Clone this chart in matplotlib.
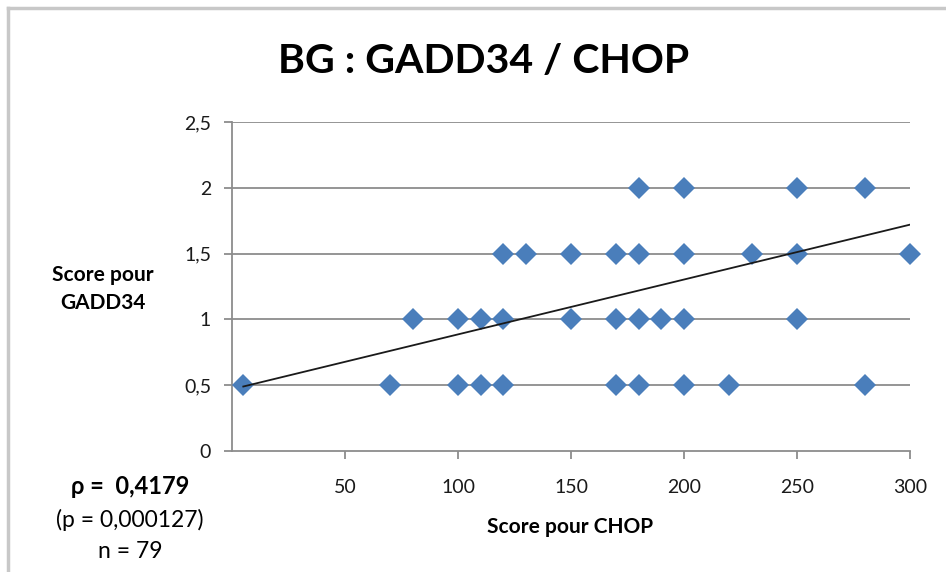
import matplotlib
matplotlib.use("Agg")
import matplotlib.pyplot as plt
from matplotlib.lines import Line2D

# ---- data ----
chop_2 = [180, 200, 250, 280]
chop_15 = [120, 130, 150, 170, 180, 200, 230, 250, 300]
chop_1 = [80, 100, 110, 120, 150, 170, 180, 190, 200, 250]
chop_05 = [5, 70, 100, 110, 120, 170, 180, 200, 220, 280]
gadd_levels = [2.0, 1.5, 1.0, 0.5]
trend_x = [5, 300]
trend_y = [0.49, 1.72]
x_ticks = [50, 100, 150, 200, 250, 300]
y_ticks = [0, 0.5, 1, 1.5, 2, 2.5]
y_tick_labels = ["0", "0,5", "1", "1,5", "2", "2,5"]
title = "BG : GADD34 / CHOP"
xlabel = "Score pour CHOP"
ylabel = "Score pour\nGADD34"
stats = ["ρ =  0,4179", "(p = 0,000127)", "n = 79"]

FONT = "Lato"
plt.rcParams["font.family"] = [FONT, "DejaVu Sans"]

W, H = 946, 572
fig = plt.figure(figsize=(W / 100, H / 100), dpi=100)
ax = fig.add_axes([232 / W, 1 - 451 / H, (910 - 232) / W, (451 - 122) / H])

blue = "#4a7ebb"
grid = "#8c8c8c"
for lvl, xs in zip(gadd_levels, [chop_2, chop_15, chop_1, chop_05]):
    ax.plot(xs, [lvl] * len(xs), linestyle="none", marker="D", ms=11.5,
            color=blue, markeredgewidth=0, zorder=3, clip_on=False)
ax.plot(trend_x, trend_y, color="#1a1a1a", lw=1.3, zorder=4)

ax.set_xlim(0, 300)
ax.set_ylim(0, 2.5)
ax.set_yticks(y_ticks)
ax.set_yticklabels(y_tick_labels)
ax.set_xticks(x_ticks)
ax.set_xticklabels([str(v) for v in x_ticks])
for y in y_ticks[1:]:
    ax.axhline(y, color=grid, lw=1.3, zorder=1)
for s in ["top", "right"]:
    ax.spines[s].set_visible(False)
for s in ["left", "bottom"]:
    ax.spines[s].set_color(grid)
    ax.spines[s].set_linewidth(1.3)
ax.tick_params(axis="both", colors=grid, length=6, width=1.3, labelsize=14,
               labelcolor="#1a1a1a")
ax.tick_params(axis="x", pad=14)
ax.tick_params(axis="y", pad=9)

fig.text(484 / W, 1 - 62 / H, title, ha="center", va="center",
         fontsize=29.5, fontweight="bold")
fig.text(570 / W, 1 - 527 / H, xlabel, ha="center", va="center",
         fontsize=15, fontweight="bold")
fig.text(103 / W, 1 - 289 / H, ylabel, ha="center", va="center",
         fontsize=15, fontweight="bold", linespacing=1.45)
fig.text(130 / W, 1 - 486 / H, stats[0], ha="center", va="center",
         fontsize=17, fontweight="bold")
fig.text(130 / W, 1 - 520 / H, stats[1], ha="center", va="center", fontsize=16.5)
fig.text(130 / W, 1 - 551 / H, stats[2], ha="center", va="center", fontsize=16.5)

# chart border (top and left)
fig.add_artist(Line2D([8 / W, 1], [1 - 8 / H, 1 - 8 / H], color="#c8c8c8", lw=2.5))
fig.add_artist(Line2D([8 / W, 8 / W], [0, 1 - 8 / H], color="#c8c8c8", lw=2.5))

fig.savefig("out.png", dpi=100)
